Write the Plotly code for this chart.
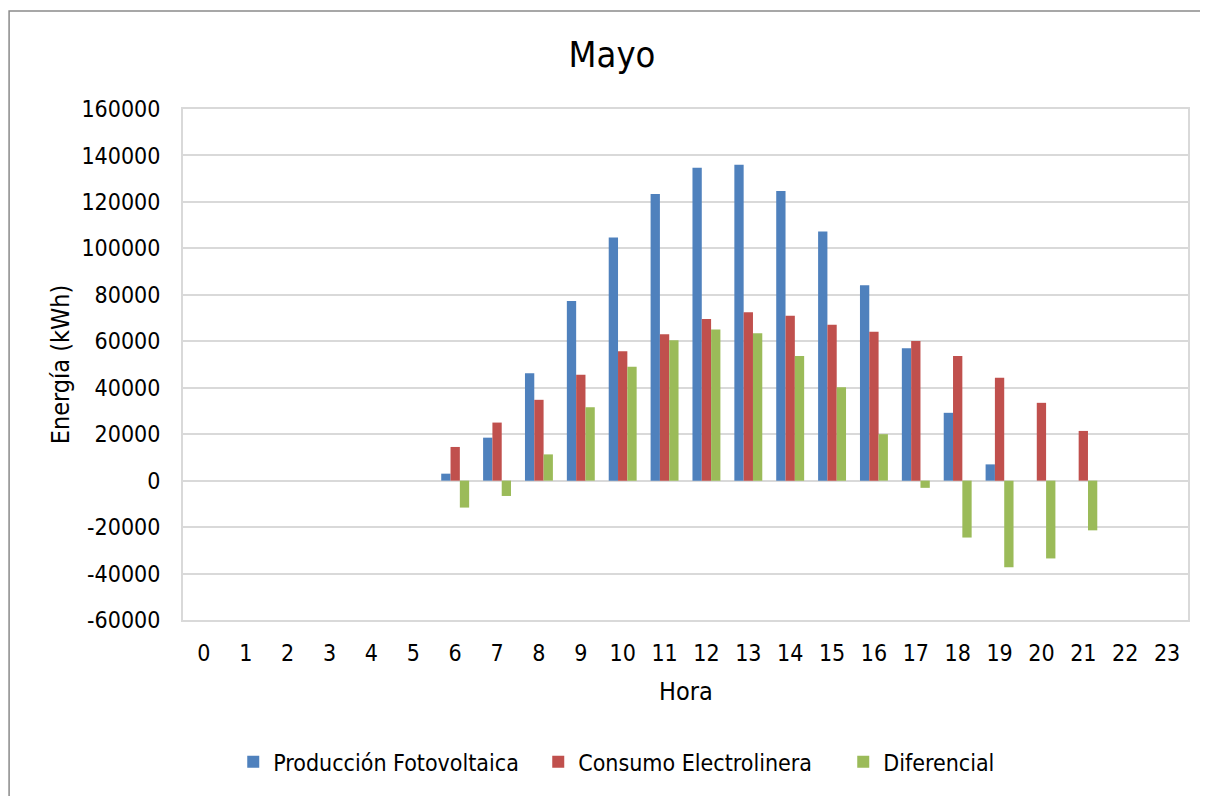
import plotly.graph_objects as go

# ---- data ----
hours = ["0", "1", "2", "3", "4", "5", "6", "7", "8", "9", "10", "11",
         "12", "13", "14", "15", "16", "17", "18", "19", "20", "21", "22", "23"]
produccion = [0, 0, 0, 0, 0, 0, 3000, 18500, 46200, 77300, 104700, 123400,
              134700, 136000, 124700, 107300, 84100, 57000, 29200, 7000, 0, 0, 0, 0]
consumo = [0, 0, 0, 0, 0, 0, 14500, 25000, 34800, 45600, 55700, 63000,
           69600, 72500, 71000, 67100, 64100, 60100, 53700, 44300, 33500, 21400, 0, 0]
diferencial = [0, 0, 0, 0, 0, 0, -11600, -6600, 11300, 31600, 49000, 60400,
               65100, 63500, 53700, 40200, 20000, -3100, -24500, -37300, -33500, -21400, 0, 0]
series_names = ["Producción Fotovoltaica", "Consumo Electrolinera", "Diferencial"]
y_tick_vals = [-60000, -40000, -20000, 0, 20000, 40000, 60000, 80000,
               100000, 120000, 140000, 160000]
y_tick_text = ["-60000", "-40000", "-20000", "0", "20000", "40000", "60000", "80000",
               "100000", "120000", "140000", "160000"]

colors = ["#4F81BD", "#C0504D", "#9BBB59"]
FONT = "DejaVu Sans Condensed, Tahoma, Liberation Sans, sans-serif"

# page body has an 8px margin; work in figure coordinates (= page coords - 8)
OFF = 8
W, H = 1200, 788
L, R, T, B = 182.5 - OFF, 1188 - OFF, 108.5 - OFF, 620 - OFF
pw, ph = R - L, B - T


def px_x(x):
    return (x - OFF - L) / pw


def px_y(y):
    return (B - (y - OFF)) / ph


fig = go.Figure()
for name, vals, col in zip(series_names, [produccion, consumo, diferencial], colors):
    fig.add_trace(go.Bar(x=hours, y=vals, name=name, marker=dict(color=col, line=dict(width=0))))

fig.update_layout(
    width=W, height=H,
    margin=dict(l=L, r=W - R, t=T, b=H - B, pad=0),
    paper_bgcolor="white", plot_bgcolor="white",
    font=dict(family=FONT, color="#000000", size=23),
    barmode="group", bargap=0.333, bargroupgap=0,
    title=dict(text="Mayo", font=dict(family=FONT, size=36, color="#000000"),
               x=(612 - OFF) / W, xanchor="center", xref="container",
               y=1 - (54 - OFF) / H, yanchor="middle", yref="container"),
    showlegend=True,
    legend=dict(orientation="h", x=px_x(618.5 + 72), xanchor="center",
                y=px_y(762), yanchor="middle", font=dict(family=FONT, size=23, color="#000000"),
                bgcolor="rgba(0,0,0,0)", traceorder="normal",
                entrywidthmode="pixels", entrywidth=260),
    xaxis=dict(type="category", showgrid=False, zeroline=False, ticks="",
               showline=True, mirror=True, linecolor="#D9D9D9", linewidth=2,
               tickfont=dict(family=FONT, size=23, color="#000000"),
               ticklabelstandoff=11),
    yaxis=dict(range=[-60000, 160000], tickvals=y_tick_vals, ticktext=y_tick_text,
               showgrid=True, gridcolor="#D9D9D9", gridwidth=2, zeroline=False, ticks="",
               showline=True, mirror=True, linecolor="#D9D9D9", linewidth=2,
               tickfont=dict(family=FONT, size=23, color="#000000"),
               ticklabelstandoff=16),
    annotations=[
        dict(text="Energía (kWh)", textangle=-90, xref="paper", yref="paper",
             x=px_x(60), y=px_y(364.5), xanchor="center", yanchor="middle",
             showarrow=False, font=dict(family=FONT, size=25, color="#000000")),
        dict(text="Hora", xref="paper", yref="paper",
             x=px_x(685.5), y=px_y(692), xanchor="center", yanchor="middle",
             showarrow=False, font=dict(family=FONT, size=25, color="#000000")),
    ],
    shapes=[
        dict(type="rect", xref="paper", yref="paper",
             x0=px_x(8.5), x1=px_x(1240), y0=px_y(860), y1=px_y(10.3),
             line=dict(color="#8A8A8A", width=1.5), fillcolor="rgba(0,0,0,0)", layer="below"),
    ],
)

fig.write_html("out.html")
